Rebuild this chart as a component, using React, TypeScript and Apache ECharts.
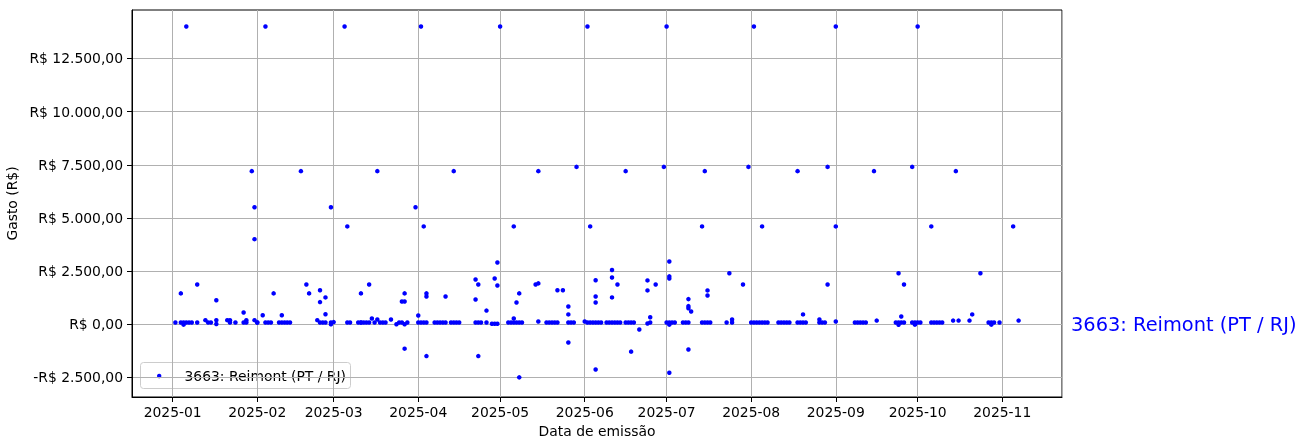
import React, { useEffect, useRef } from "react";
import * as echarts from "echarts";

const seriesName = "3663: Reimont (PT / RJ)";
const xAxisTitle = "Data de emissão";
const yAxisTitle = "Gasto (R$)";
const yTicks = [-2500, 0, 2500, 5000, 7500, 10000, 12500];
const monthTicks = ["2025-01", "2025-02", "2025-03", "2025-04", "2025-05", "2025-06", "2025-07", "2025-08", "2025-09", "2025-10", "2025-11"];

// [data de emissão, gasto em R$]
const gastos: [string, number][] = [
  ["2025-01-02", 80], ["2025-01-04", 1450], ["2025-01-04", 80], ["2025-01-05", 80], ["2025-01-05", -20],
  ["2025-01-06", 14000], ["2025-01-06", 80], ["2025-01-07", 80], ["2025-01-08", 80], ["2025-01-10", 1870],
  ["2025-01-10", 80], ["2025-01-13", 190], ["2025-01-14", 80], ["2025-01-15", 80], ["2025-01-17", 190],
  ["2025-01-17", 1130], ["2025-01-17", 10], ["2025-01-21", 190], ["2025-01-22", 190], ["2025-01-22", 80],
  ["2025-01-24", 80], ["2025-01-27", 550], ["2025-01-27", 80], ["2025-01-28", 190], ["2025-01-28", 80],
  ["2025-01-30", 7200], ["2025-01-31", 5500], ["2025-01-31", 4000], ["2025-01-31", 190], ["2025-02-01", 80],
  ["2025-02-01", 80],
  ["2025-02-03", 420], ["2025-02-04", 14000], ["2025-02-04", 80], ["2025-02-05", 80], ["2025-02-06", 80],
  ["2025-02-07", 1450], ["2025-02-09", 80], ["2025-02-10", 420], ["2025-02-10", 80], ["2025-02-11", 80],
  ["2025-02-12", 80], ["2025-02-13", 80], ["2025-02-17", 7200], ["2025-02-19", 1870], ["2025-02-20", 1450],
  ["2025-02-23", 190], ["2025-02-24", 1600], ["2025-02-24", 1040], ["2025-02-24", 80], ["2025-02-25", 80],
  ["2025-02-26", 1260], ["2025-02-26", 470], ["2025-02-26", 80], ["2025-02-28", 5500], ["2025-02-28", 0],
  ["2025-02-28", 80], ["2025-03-01", 100],
  ["2025-03-05", 14000], ["2025-03-06", 4600], ["2025-03-06", 80], ["2025-03-07", 80], ["2025-03-10", 80],
  ["2025-03-11", 80], ["2025-03-11", 1450], ["2025-03-11", 80], ["2025-03-12", 80], ["2025-03-13", 80],
  ["2025-03-14", 1870], ["2025-03-14", 80], ["2025-03-15", 270], ["2025-03-16", 80], ["2025-03-17", 7200],
  ["2025-03-17", 220], ["2025-03-18", 80], ["2025-03-19", 80], ["2025-03-20", 80], ["2025-03-22", 220],
  ["2025-03-24", 0], ["2025-03-25", 80], ["2025-03-26", 1070], ["2025-03-26", 80], ["2025-03-27", 1070],
  ["2025-03-27", 1450], ["2025-03-27", -1150], ["2025-03-27", 0], ["2025-03-28", 80], ["2025-03-31", 5500],
  ["2025-04-01", 410], ["2025-04-01", 80], ["2025-04-02", 14000], ["2025-04-02", 80], ["2025-04-03", 4600],
  ["2025-04-03", 80], ["2025-04-04", 1450], ["2025-04-04", 1300], ["2025-04-04", -1500], ["2025-04-04", 80],
  ["2025-04-07", 80], ["2025-04-08", 80], ["2025-04-09", 80], ["2025-04-10", 80], ["2025-04-11", 1300],
  ["2025-04-11", 80], ["2025-04-13", 80], ["2025-04-14", 7200], ["2025-04-14", 80], ["2025-04-15", 80],
  ["2025-04-16", 80], ["2025-04-22", 2100], ["2025-04-22", 1160], ["2025-04-22", 80], ["2025-04-23", 1870],
  ["2025-04-23", -1500], ["2025-04-23", 80], ["2025-04-24", 80], ["2025-04-26", 640], ["2025-04-26", 80],
  ["2025-04-28", 20], ["2025-04-29", 2150], ["2025-04-29", 20], ["2025-04-30", 2900], ["2025-04-30", 1820],
  ["2025-04-30", 20],
  ["2025-05-01", 14000], ["2025-05-04", 80], ["2025-05-05", 80], ["2025-05-06", 4600], ["2025-05-06", 270],
  ["2025-05-06", 80], ["2025-05-07", 1020], ["2025-05-07", 80], ["2025-05-08", 1450], ["2025-05-08", -2500],
  ["2025-05-08", 80], ["2025-05-09", 80], ["2025-05-14", 1870], ["2025-05-15", 1920], ["2025-05-15", 7200],
  ["2025-05-15", 130], ["2025-05-18", 80], ["2025-05-19", 80], ["2025-05-20", 80], ["2025-05-21", 80],
  ["2025-05-22", 1600], ["2025-05-22", 80], ["2025-05-24", 1600], ["2025-05-26", 830], ["2025-05-26", 460],
  ["2025-05-26", -860], ["2025-05-26", 80], ["2025-05-27", 80], ["2025-05-28", 80], ["2025-05-29", 7400],
  ["2025-06-01", 130], ["2025-06-02", 14000], ["2025-06-02", 80], ["2025-06-03", 4600], ["2025-06-03", 80],
  ["2025-06-04", 80], ["2025-06-05", 2070], ["2025-06-05", 1300], ["2025-06-05", 1020], ["2025-06-05", -2130],
  ["2025-06-05", 80], ["2025-06-06", 80], ["2025-06-07", 80], ["2025-06-09", 80], ["2025-06-10", 80],
  ["2025-06-11", 2550], ["2025-06-11", 2200], ["2025-06-11", 1260], ["2025-06-11", 80], ["2025-06-12", 80],
  ["2025-06-13", 1870], ["2025-06-13", 80], ["2025-06-14", 80], ["2025-06-16", 7200], ["2025-06-16", 80],
  ["2025-06-17", 80], ["2025-06-18", -1290], ["2025-06-18", 80], ["2025-06-19", 80], ["2025-06-21", -250],
  ["2025-06-24", 2060], ["2025-06-24", 1590], ["2025-06-24", 30], ["2025-06-25", 330], ["2025-06-25", 80],
  ["2025-06-27", 1870], ["2025-06-30", 7400],
  ["2025-07-01", 14000], ["2025-07-01", 80], ["2025-07-02", 2950], ["2025-07-02", 2250], ["2025-07-02", 2150],
  ["2025-07-02", -2280], ["2025-07-02", -20], ["2025-07-02", 80], ["2025-07-03", 80], ["2025-07-04", 80],
  ["2025-07-07", 80], ["2025-07-08", 80], ["2025-07-09", 1180], ["2025-07-09", 850], ["2025-07-09", 750],
  ["2025-07-09", -1190], ["2025-07-09", 80], ["2025-07-10", 600], ["2025-07-14", 4600], ["2025-07-14", 80],
  ["2025-07-15", 7200], ["2025-07-15", 80], ["2025-07-16", 1590], ["2025-07-16", 1350], ["2025-07-16", 80],
  ["2025-07-17", 80], ["2025-07-23", 80], ["2025-07-24", 2400], ["2025-07-25", 220], ["2025-07-25", 80],
  ["2025-07-29", 1870], ["2025-07-31", 7400],
  ["2025-08-01", 80], ["2025-08-02", 14000], ["2025-08-02", 80], ["2025-08-03", 80], ["2025-08-04", 80],
  ["2025-08-05", 4600], ["2025-08-05", 80], ["2025-08-06", 80], ["2025-08-07", 80], ["2025-08-11", 80],
  ["2025-08-12", 80], ["2025-08-13", 80], ["2025-08-14", 80], ["2025-08-15", 80], ["2025-08-18", 7200],
  ["2025-08-18", 80], ["2025-08-19", 80], ["2025-08-20", 460], ["2025-08-20", 80], ["2025-08-21", 80],
  ["2025-08-26", 220], ["2025-08-26", 80], ["2025-08-27", 80], ["2025-08-28", 80], ["2025-08-29", 1870],
  ["2025-08-29", 7400],
  ["2025-09-01", 14000], ["2025-09-01", 4600], ["2025-09-01", 130], ["2025-09-08", 80], ["2025-09-09", 80],
  ["2025-09-10", 80], ["2025-09-11", 80], ["2025-09-12", 80], ["2025-09-15", 7200], ["2025-09-16", 170],
  ["2025-09-23", 80], ["2025-09-24", 2400], ["2025-09-24", 80], ["2025-09-24", -30], ["2025-09-25", 360],
  ["2025-09-25", 80], ["2025-09-26", 1870], ["2025-09-26", 80], ["2025-09-29", 7400], ["2025-09-29", 80],
  ["2025-09-30", -20], ["2025-09-30", 80],
  ["2025-10-01", 14000], ["2025-10-01", 80], ["2025-10-02", 80], ["2025-10-06", 4600], ["2025-10-06", 80],
  ["2025-10-07", 80], ["2025-10-08", 80], ["2025-10-09", 80], ["2025-10-10", 80], ["2025-10-14", 170],
  ["2025-10-15", 7200], ["2025-10-16", 170], ["2025-10-20", 170], ["2025-10-21", 460], ["2025-10-24", 2400],
  ["2025-10-27", 80], ["2025-10-28", -20], ["2025-10-28", 80], ["2025-10-29", 80], ["2025-10-31", 80],
  ["2025-11-05", 4600], ["2025-11-07", 170],
];

const DAY = 86400000;
const toTime = (s: string) => {
  const [y, m, d] = s.split("-").map(Number);
  return new Date(y, m - 1, d).getTime();
};

const fmtBRL = (v: number) => {
  const abs = Math.abs(v);
  const int = Math.round(abs).toString().replace(/\B(?=(\d{3})+(?!\d))/g, ".");
  return (v < 0 ? "-" : "") + "R$ " + int + ",00";
};

export default function App() {
  const ref = useRef<HTMLDivElement>(null);
  useEffect(() => {
    if (!ref.current) return;
    const chart = echarts.init(ref.current, undefined, { renderer: "svg" });
    const jan1 = toTime("2025-01-01");
    const font = "DejaVu Sans";
    const monthValues = monthTicks.map((m) => toTime(m + "-01"));
    chart.setOption({
      animation: false,
      textStyle: { fontFamily: font },
      grid: {
        left: 132, top: 10, width: 930, height: 387,
        show: true, borderColor: "#000", borderWidth: 1, backgroundColor: "transparent",
        containLabel: false, outerBoundsMode: "none",
      },
      legend: { show: false, data: [seriesName] },
      xAxis: {
        type: "time",
        min: jan1 - 14.9 * DAY,
        max: jan1 + 325.9 * DAY,
        splitNumber: 11,
        minInterval: 28 * DAY,
        maxInterval: 31 * DAY,
        name: xAxisTitle,
        nameLocation: "middle",
        nameGap: 25,
        nameTextStyle: { fontFamily: font, fontSize: 13.9, color: "#000" },
        axisLine: { show: true, onZero: false, lineStyle: { color: "#000", width: 1 } },
        axisTick: { show: true, length: 5, lineStyle: { color: "#000" } },
        axisLabel: {
          margin: 8,
          fontFamily: font,
          fontSize: 13.9,
          color: "#000",
          hideOverlap: false,
          formatter: (v: number) => {
            const d = new Date(v);
            const key = d.getFullYear() + "-" + String(d.getMonth() + 1).padStart(2, "0");
            return monthValues.includes(v) ? key : "";
          },
        },
        splitLine: { show: true, lineStyle: { color: "#b0b0b0", width: 1 } },
      },
      yAxis: {
        type: "value",
        min: -3424,
        max: 14779,
        minInterval: 2500,
        maxInterval: 2500,
        name: yAxisTitle,
        nameLocation: "middle",
        nameGap: 104,
        nameTextStyle: { fontFamily: font, fontSize: 13.9, color: "#000" },
        axisLine: { show: true, onZero: false, lineStyle: { color: "#000", width: 1 } },
        axisTick: { show: true, length: 5, lineStyle: { color: "#000" }, customValues: yTicks },
        axisLabel: {
          margin: 9,
          fontFamily: font,
          fontSize: 13.9,
          color: "#000",
          customValues: yTicks,
          formatter: (v: number) => fmtBRL(v),
        },
        splitLine: { show: true, lineStyle: { color: "#b0b0b0", width: 1 } },
      },
      series: [
        {
          name: seriesName,
          type: "scatter",
          symbol: "circle",
          symbolSize: 4.5,
          itemStyle: { color: "#0000ff", opacity: 1 },
          data: gastos.map(([d, v]) => [toTime(d), v]),
        },
      ],
      graphic: [
        {
          type: "group",
          left: 140,
          top: 362,
          children: [
            {
              type: "rect",
              shape: { x: 0, y: 0, width: 210, height: 26, r: 3 },
              style: { fill: "rgba(255,255,255,0.8)", stroke: "#cccccc", lineWidth: 1 },
            },
            { type: "circle", shape: { cx: 18.7, cy: 13.5, r: 2.2 }, style: { fill: "#0000ff" } },
            {
              type: "text",
              x: 44,
              y: 13.5,
              style: { text: seriesName, fill: "#000", fontSize: 13.9, fontFamily: font, verticalAlign: "middle", align: "left" },
            },
          ],
        },
        {
          type: "text",
          x: 1071,
          y: 324,
          style: { text: seriesName, fill: "#0000ff", fontSize: 19.4, fontFamily: font, verticalAlign: "middle", align: "left" },
        },
      ],
    });
    return () => chart.dispose();
  }, []);
  return <div ref={ref} style={{ position: "fixed", left: 0, top: 0, width: 1307, height: 448 }} />;
}
